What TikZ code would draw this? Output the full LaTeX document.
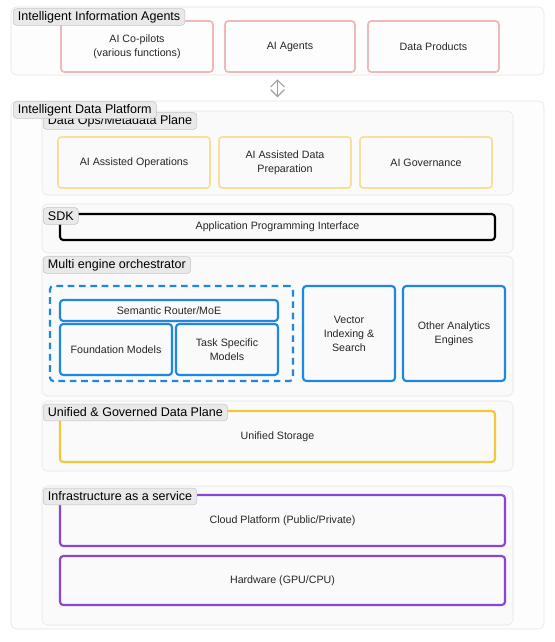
\documentclass[tikz,border=0pt]{standalone}
\usepackage{fontspec}
\setmainfont{Liberation Sans}
\usetikzlibrary{arrows.meta}
\definecolor{panelLine}{HTML}{E4E4E4}
\definecolor{outerFill}{HTML}{FDFDFD}
\definecolor{panelFill}{HTML}{FAFAFA}
\definecolor{tagLine}{HTML}{C4C4C4}
\definecolor{tagFill}{HTML}{E9E9E9}
\definecolor{textGray}{HTML}{262626}
\definecolor{pinkLine}{HTML}{F0B8B8}
\definecolor{yellowLine}{HTML}{F8E09C}
\definecolor{blueLine}{HTML}{1E88E0}
\definecolor{goldLine}{HTML}{F2C83A}
\definecolor{purpleLine}{HTML}{8A44D6}
\definecolor{arrowGray}{HTML}{A0A0A0}
\tikzset{%
  >={Straight Barb[length=1.8mm,width=3.6mm]},
  % Specifications for style of nodes:
       base/.style = {rectangle, rounded corners=2.5pt, inner sep=0pt,
                      align=center, text=textGray,
                      font=\fontsize{8}{10.5}\selectfont},
    % area = {left}{top}{right}{bottom}, in pixels of the picture
    area/.style n args = {4}{at={({(#1+#3)/2},{(#2+#4)/2+1})},
                      minimum width={(#3-#1)*0.75pt}, minimum height={(#4-#2)*0.75pt}},
    outerPanel/.style = {base, draw=panelLine, fill=outerFill, rounded corners=4pt},
    planePanel/.style = {outerPanel, fill=panelFill},
    tag/.style = {rectangle, rounded corners=2.5pt, draw=tagLine, fill=tagFill,
                  anchor=west, inner xsep=3.5pt, inner ysep=0pt, minimum height=12.5pt,
                  text=black, font=\fontsize{9.4}{10}\selectfont},
    agentBox/.style = {base, draw=pinkLine, line width=1.3pt},
    opsBox/.style = {base, draw=yellowLine, line width=1.3pt},
    apiBox/.style = {base, draw=black, line width=1.6pt},
    engineBox/.style = {base, draw=blueLine, line width=1.6pt},
    storageBox/.style = {base, draw=goldLine, line width=1.6pt},
    infraBox/.style = {base, draw=purpleLine, line width=1.6pt},
}
\begin{document}
\begin{tikzpicture}[x=0.75pt, y=-0.75pt]
  \useasboundingbox (0,0) rectangle (554,642);
  % Intelligent Information Agents
  \node (infoAgents)    [outerPanel, area={11}{6}{544}{74}] {};
  \node (copilots)      [agentBox, area={61}{20}{213}{71}] {AI Co-pilots\\(various functions)};
  \node (aiAgents)      [agentBox, area={225}{20}{355}{71}] {AI Agents};
  \node (dataProducts)  [agentBox, area={368}{20}{499}{71}] {Data Products};
  \node (agentsTag)     [tag] at (13,17) {Intelligent Information Agents};

  % Intelligent Data Platform
  \node (dataPlatform)  [outerPanel, area={11}{100}{544}{628}] {};

  \node (opsPlane)      [planePanel, area={42}{110}{513}{194}] {};
  \node (assistedOps)   [opsBox, area={58}{136}{210}{187}] {AI Assisted Operations};
  \node (assistedPrep)  [opsBox, area={219}{136}{351}{187}] {AI Assisted Data\\Preparation};
  \node (governance)    [opsBox, area={360}{136}{492}{187}] {AI Governance};
  \node (opsTag)        [tag] at (43,121) {Data Ops/Metadata Plane};
  \node (platformTag)   [tag] at (13,110) {Intelligent Data Platform};

  \node (sdkPlane)      [planePanel, area={42}{203}{513}{252}] {};
  \node (api)           [apiBox, area={60}{213}{495}{239}] {Application Programming Interface};
  \node (sdkTag)        [tag] at (43,216) {SDK};

  \node (enginePlane)   [planePanel, area={42}{255}{513}{395}] {};
  \node (engineTag)     [tag] at (43,265) {Multi engine orchestrator};
  \node (modelGroup)    [engineBox, dash pattern=on 5pt off 3.5pt, area={50}{285}{293}{380}] {};
  \node (router)        [engineBox, area={60}{299}{278}{320}] {Semantic Router/MoE};
  \node (foundation)    [engineBox, area={60}{323}{172}{374}] {Foundation Models};
  \node (taskModels)    [engineBox, area={176}{323}{278}{374}] {Task Specific\\Models};
  \node (vectorSearch)  [engineBox, area={303}{285}{395}{380}] {Vector\\Indexing \&\\Search};
  \node (otherEngines)  [engineBox, area={403}{285}{505}{380}] {Other Analytics\\Engines};

  \node (storagePlane)  [planePanel, area={42}{400}{513}{470}] {};
  \node (storage)       [storageBox, area={60}{410}{495}{461}] {Unified Storage};
  \node (storageTag)    [tag] at (43,412.5) {Unified \& Governed Data Plane};

  \node (infraPlane)    [planePanel, area={42}{485}{513}{624}] {};
  \node (cloud)         [infraBox, area={60}{494}{505}{545}] {Cloud Platform (Public/Private)};
  \node (hardware)      [infraBox, area={60}{555}{505}{604}] {Hardware (GPU/CPU)};
  \node (infraTag)      [tag] at (43,496.5) {Infrastructure as a service};

  % arrow between the two layers
  \draw[<->, arrowGray, line width=0.9pt] ([yshift=-3pt]infoAgents.south) to ([yshift=2.5pt]dataPlatform.north);
\end{tikzpicture}
\end{document}
